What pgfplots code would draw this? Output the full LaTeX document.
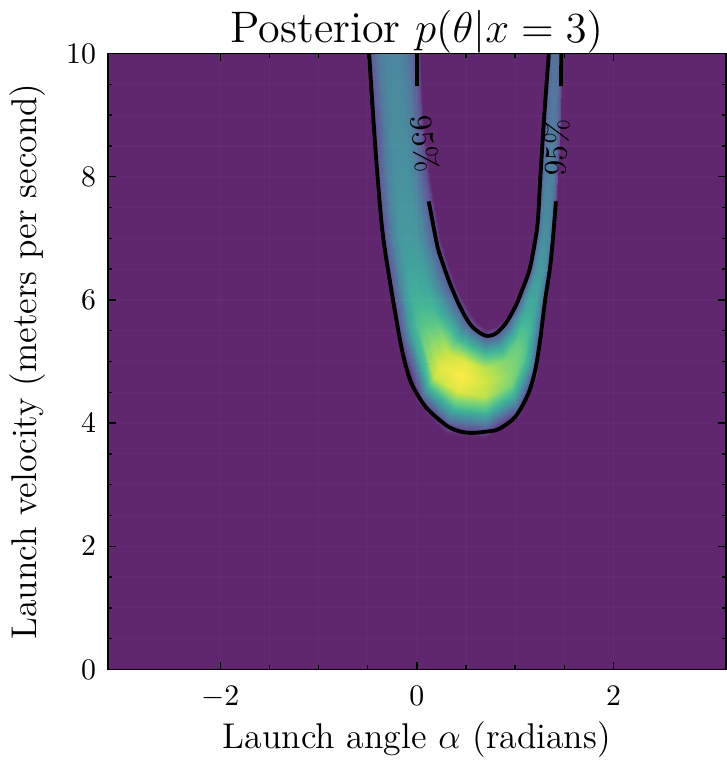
\documentclass[border=0pt]{standalone}
\usepackage{pgfplots}
\pgfplotsset{compat=1.18}
\definecolor{bgpurple}{RGB}{96,39,110}

% band of the posterior: each block is one cross-section of the band,
% from beyond the outer 95% contour, through the ridge, to beyond the inner one
\pgfplotstableread{
x y c
-0.530 10.16 0
-0.495 10.16 0.15
-0.402 10.16 0.311
-0.332 10.16 0.371
-0.263 10.16 0.380
-0.185 10.16 0.371
-0.108 10.16 0.311
-0.005 10.16 0.15
0.034 10.16 0

-0.464 9 0
-0.429 9 0.15
-0.338 9 0.324
-0.270 9 0.390
-0.202 9 0.40
-0.132 9 0.390
-0.063 9 0.324
0.030 9 0.15
0.065 9 0

-0.434 8 0
-0.399 8 0.15
-0.300 8 0.343
-0.226 8 0.418
-0.152 8 0.43
-0.078 8 0.418
-0.004 8 0.343
0.095 8 0.15
0.132 8 0

-0.374 7 0
-0.339 7 0.15
-0.244 7 0.367
-0.172 7 0.456
-0.101 7 0.47
-0.013 7 0.456
0.075 7 0.367
0.192 7 0.15
0.236 7 0

-0.318 6.5 0
-0.283 6.5 0.15
-0.186 6.5 0.392
-0.113 6.5 0.493
-0.040 6.5 0.51
0.058 6.5 0.493
0.156 6.5 0.392
0.287 6.5 0.15
0.336 6.5 0

-0.287 6.19 0
-0.251 6.19 0.15
-0.155 6.19 0.415
-0.082 6.19 0.531
-0.010 6.19 0.55
0.099 6.19 0.531
0.208 6.19 0.415
0.354 6.19 0.15
0.408 6.19 0

-0.203 5.369 0
-0.166 5.403 0.15
-0.065 5.494 0.491
0.010 5.562 0.653
0.085 5.631 0.68
0.187 5.724 0.653
0.288 5.818 0.491
0.424 5.944 0.15
0.475 5.990 0

0.015 4.309 0
0.043 4.387 0.15
0.119 4.595 0.638
0.176 4.752 0.904
0.232 4.908 0.95
0.316 5.139 0.904
0.399 5.370 0.638
0.510 5.677 0.15
0.552 5.793 0

0.300 3.829 0
0.320 3.950 0.15
0.375 4.274 0.664
0.416 4.517 0.950
0.457 4.760 1.0
0.496 4.993 0.950
0.535 5.227 0.664
0.587 5.539 0.15
0.606 5.656 0

0.697 3.752 0
0.697 3.871 0.15
0.697 4.187 0.622
0.697 4.424 0.876
0.697 4.661 0.92
0.697 4.889 0.876
0.697 5.116 0.622
0.697 5.419 0.15
0.697 5.533 0

1.049 4.092 0
1.033 4.189 0.15
0.990 4.447 0.557
0.958 4.640 0.765
0.925 4.833 0.80
0.893 5.026 0.765
0.860 5.220 0.557
0.817 5.477 0.15
0.801 5.574 0

1.219 4.745 0
1.197 4.806 0.15
1.138 4.969 0.513
1.094 5.091 0.690
1.051 5.213 0.72
1.007 5.335 0.690
0.963 5.458 0.513
0.904 5.621 0.15
0.882 5.682 0

1.297 5.639 0
1.277 5.658 0.15
1.223 5.708 0.421
1.182 5.745 0.540
1.141 5.782 0.56
1.101 5.819 0.540
1.061 5.857 0.421
1.007 5.906 0.15
0.987 5.925 0

1.341 6.19 0
1.323 6.19 0.15
1.275 6.19 0.385
1.238 6.19 0.484
1.202 6.19 0.5
1.165 6.19 0.484
1.127 6.19 0.385
1.078 6.19 0.15
1.059 6.19 0

1.368 6.5 0
1.353 6.5 0.15
1.313 6.5 0.361
1.283 6.5 0.446
1.253 6.5 0.46
1.221 6.5 0.446
1.190 6.5 0.361
1.147 6.5 0.15
1.132 6.5 0

1.397 7 0
1.384 7 0.15
1.349 7 0.336
1.324 7 0.408
1.298 7 0.42
1.271 7 0.408
1.243 7 0.336
1.207 7 0.15
1.193 7 0

1.437 8 0
1.425 8 0.15
1.393 8 0.298
1.368 8 0.352
1.343 8 0.36
1.317 8 0.352
1.291 8 0.298
1.256 8 0.15
1.242 8 0

1.464 9 0
1.452 9 0.15
1.421 9 0.265
1.397 9 0.304
1.374 9 0.31
1.350 9 0.304
1.327 9 0.265
1.296 9 0.15
1.284 9 0

1.479 10.16 0
1.470 10.16 0.15
1.445 10.16 0.245
1.427 10.16 0.275
1.409 10.16 0.28
1.392 10.16 0.275
1.374 10.16 0.245
1.351 10.16 0.15
1.343 10.16 0
}\posterior

\begin{document}
\begin{tikzpicture}
\begin{axis}[
    width=207.3pt,
    height=206.7pt,
    scale only axis,
    xmin=-3.14159, xmax=3.14159,
    ymin=0, ymax=10,
    xtick={-2,0,2},
    ytick={0,2,4,6,8,10},
    minor tick num=3,
    tick align=inside,
    major tick length=2.6pt,
    minor tick length=1.4pt,
    every tick/.style={black, line width=0.5pt},
    axis line style={line width=0.6pt},
    axis background/.style={fill=bgpurple},
    grid=both,
    grid style={draw=white, opacity=0.025, line width=0.4pt},
    axis on top,
    colormap={postvir}{rgb255=(96,39,110) rgb255=(99,69,138) rgb255=(94,96,153)
        rgb255=(83,119,158) rgb255=(74,140,159) rgb255=(66,162,157) rgb255=(67,181,150)
        rgb255=(96,201,133) rgb255=(142,216,107) rgb255=(199,228,71) rgb255=(253,235,70)},
    point meta min=0, point meta max=1,
    title={Posterior $p(\theta|x=3)$},
    title style={font=\fontsize{14.8}{16}\selectfont, yshift=-9.3pt},
    xlabel={Launch angle $\alpha$ (radians)},
    ylabel={Launch velocity (meters per second)},
    label style={font=\fontsize{12}{14}\selectfont},
    xlabel style={yshift=2.3pt},
    xticklabel style={yshift=-2pt},
    yticklabel style={xshift=-0.5pt},
]
\addplot[surf, shader=interp, mesh/cols=9, point meta=explicit] table[x=x, y=y, meta=c] {\posterior};

% outer 95% contour
\addplot[black, line width=1.3pt, smooth, tension=0.5] coordinates {
(-0.49,10.1) (-0.424,8.5) (-0.364,7.32) (-0.323,6.79) (-0.268,6.24)
(-0.212,5.71) (-0.167,5.31) (-0.121,4.98) (-0.051,4.63) (0.091,4.26)
(0.293,3.97) (0.424,3.87) (0.556,3.84) (0.697,3.86) (0.828,3.90) (1.0,4.10)
(1.131,4.47) (1.202,4.85) (1.253,5.34) (1.303,5.98) (1.354,6.52) (1.384,7.0) (1.414,7.6)};
\addplot[black, line width=1.3pt] coordinates {(1.465,9.47) (1.47,10.1)};

% inner 95% contour
\addplot[black, line width=1.3pt] coordinates {(0.0,10.1) (0.0,9.47)};
\addplot[black, line width=1.3pt, smooth, tension=0.5] coordinates {
(0.121,7.6) (0.192,7.0) (0.222,6.79) (0.283,6.5) (0.343,6.24) (0.424,5.94)
(0.510,5.68) (0.586,5.53) (0.697,5.42) (0.798,5.45) (0.904,5.62) (1.007,5.91)
(1.078,6.19) (1.147,6.5) (1.207,7.0) (1.232,7.32) (1.256,8.0) (1.296,9.0)
(1.343,10.02) (1.346,10.1)};

\node[rotate=-84, font=\fontsize{10.5}{12}\selectfont, inner sep=0pt] at (axis cs:0.08,8.53) {95\%};
\node[rotate=87, font=\fontsize{10.5}{12}\selectfont, inner sep=0pt] at (axis cs:1.42,8.47) {95\%};
\end{axis}
\end{tikzpicture}
\end{document}
